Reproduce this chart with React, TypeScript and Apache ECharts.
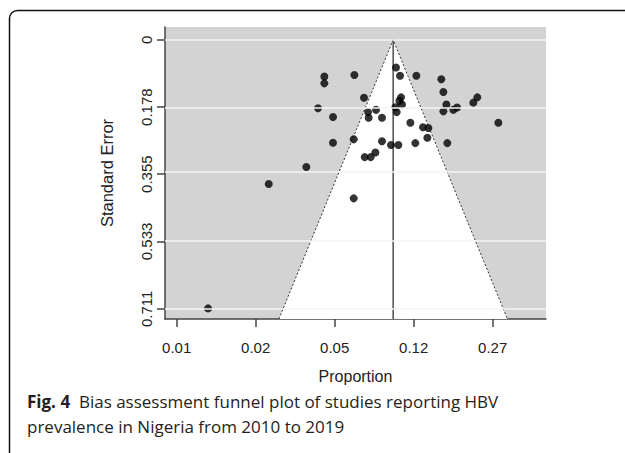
import React, { useEffect, useRef } from "react";
import * as echarts from "echarts";

// x values are logit(proportion); y values are standard errors
const studyLogit = [
  -3.131, -3.131, -2.751, -3.211, -3.021, -3.021, -3.359, -3.835, -2.759, -2.759,
  -2.629, -2.578, -2.570, -2.477, -2.401, -2.401, -2.620, -2.544, -2.485, -2.287,
  -2.194, -2.224, -2.173, -1.966, -2.160, -2.181, -2.148, -2.232, -2.215, -2.042,
  -1.882, -1.814, -1.827, -1.979, -1.650, -1.624, -1.586, -1.624, -1.498, -1.451,
  -1.245, -1.194, -0.928, -1.574, -4.603,
];
const studySE = [
  0.097, 0.115, 0.093, 0.181, 0.204, 0.272, 0.336, 0.381, 0.263, 0.419,
  0.153, 0.191, 0.206, 0.185, 0.206, 0.268, 0.310, 0.310, 0.298, 0.278,
  0.278, 0.073, 0.095, 0.095, 0.152, 0.161, 0.171, 0.178, 0.191, 0.219,
  0.231, 0.233, 0.259, 0.273, 0.104, 0.138, 0.171, 0.189, 0.185, 0.179,
  0.166, 0.152, 0.219, 0.273, 0.710,
];
const pooledLogit = -2.26;
const xTicks = [-5, -4, -3, -2, -1];
const xTickLabels = ["0.01", "0.02", "0.05", "0.12", "0.27"];
const yTicks = [0, 0.178, 0.355, 0.533, 0.711];
const yTickLabels = ["0", "0.178", "0.355", "0.533", "0.711"];

const X_MIN = -5.148;
const X_MAX = -0.325;
const Y_MIN = -0.034;
const Y_MAX = 0.738;
const Z = 1.96;

export default function App() {
  const ref = useRef<HTMLDivElement>(null);
  useEffect(() => {
    if (!ref.current) return;
    const chart = echarts.init(ref.current, null, { renderer: "svg" });
    const axisFont = "'Liberation Sans', Arial, sans-serif";
    const axisColor = "#222";
    const leftX = pooledLogit - Z * Y_MAX;
    const rightX = pooledLogit + Z * Y_MAX;
    chart.setOption({
      animation: false,
      grid: {
        left: 165,
        top: 27,
        width: 381,
        height: 292,
        show: true,
        backgroundColor: "#d3d3d3",
        borderWidth: 0,
      },
      xAxis: {
        type: "value",
        min: X_MIN,
        max: X_MAX,
        name: "Proportion",
        nameLocation: "middle",
        nameGap: 49,
        nameTextStyle: { fontFamily: axisFont, fontSize: 16, color: axisColor },
        axisLine: { show: true, onZero: false, lineStyle: { color: "#444", width: 1.5 } },
        axisTick: { show: true, length: 8, customValues: xTicks, lineStyle: { color: "#444", width: 1.5 } },
        axisLabel: {
          customValues: xTicks,
          margin: 21,
          fontFamily: axisFont,
          fontSize: 15,
          color: axisColor,
          formatter: (v: number) => {
            const i = xTicks.findIndex((t) => Math.abs(t - v) < 1e-6);
            return i >= 0 ? xTickLabels[i] : "";
          },
        },
        splitLine: { show: false },
      },
      yAxis: {
        type: "value",
        inverse: true,
        min: Y_MIN,
        max: Y_MAX,
        name: "Standard Error",
        nameLocation: "middle",
        nameGap: 50,
        nameTextStyle: { fontFamily: axisFont, fontSize: 16.5, color: axisColor },
        axisLine: { show: true, onZero: false, lineStyle: { color: "#444", width: 1.5 } },
        axisTick: { show: true, length: 8, customValues: yTicks, lineStyle: { color: "#444", width: 1.5 } },
        axisLabel: {
          customValues: yTicks,
          rotate: 90,
          margin: 11,
          fontFamily: axisFont,
          fontSize: 15,
          color: axisColor,
          formatter: (v: number) => {
            const i = yTicks.findIndex((t) => Math.abs(t - v) < 1e-6);
            return i >= 0 ? yTickLabels[i] : "";
          },
        },
        splitLine: { show: false },
      },
      series: [
        {
          type: "line",
          z: 1,
          data: [],
          symbol: "none",
          markLine: {
            silent: true,
            symbol: "none",
            label: { show: false },
            lineStyle: { color: "#f4f4f4", width: 1.5, type: "solid" },
            data: yTicks.map((t) => ({ yAxis: t })),
          },
        },
        {
          type: "custom",
          z: 2,
          silent: true,
          data: [[pooledLogit, 0]],
          renderItem: (params: any, api: any) => {
            const p0 = api.coord([pooledLogit, 0]);
            const p1 = api.coord([leftX, Y_MAX]);
            const p2 = api.coord([rightX, Y_MAX]);
            return {
              type: "polygon",
              shape: { points: [p0, p1, p2] },
              style: { fill: "#ffffff", stroke: "none" },
            };
          },
        },
        {
          type: "line",
          z: 3,
          symbol: "none",
          silent: true,
          data: [
            [leftX, Y_MAX],
            [pooledLogit, 0],
            [rightX, Y_MAX],
          ],
          lineStyle: { color: "#333", width: 1, type: [2, 2] },
        },
        {
          type: "line",
          z: 3,
          symbol: "none",
          silent: true,
          data: [
            [pooledLogit, 0],
            [pooledLogit, Y_MAX],
          ],
          lineStyle: { color: "#222", width: 1.2 },
        },
        {
          type: "scatter",
          z: 4,
          symbol: "circle",
          symbolSize: 8,
          itemStyle: { color: "#000" },
          data: studyLogit.map((x, i) => [x, studySE[i]]),
        },
      ],
      graphic: [
        {
          type: "rect",
          shape: { x: 9.5, y: 10.5, width: 700, height: 600, r: [8, 0, 0, 0] },
          style: { fill: "none", stroke: "#111", lineWidth: 1.5 },
          silent: true,
        },
        {
          type: "text",
          left: 27,
          top: 389,
          style: {
            text: "{b|Fig. 4}  Bias assessment funnel plot of studies reporting HBV\nprevalence in Nigeria from 2010 to 2019",
            fontFamily: "'Open Sans', 'Noto Sans', sans-serif",
            fontSize: 17,
            lineHeight: 25,
            fill: "#231f20",
            rich: {
              b: {
                fontFamily: "'Open Sans', 'Noto Sans', sans-serif",
                fontSize: 17,
                fontWeight: "bold",
                fill: "#231f20",
                lineHeight: 25,
              },
            },
          },
        },
      ],
    });
    return () => chart.dispose();
  }, []);
  return (
    <div
      ref={ref}
      style={{ position: "fixed", left: 0, top: 0, width: 625, height: 453, background: "#fff" }}
    />
  );
}
